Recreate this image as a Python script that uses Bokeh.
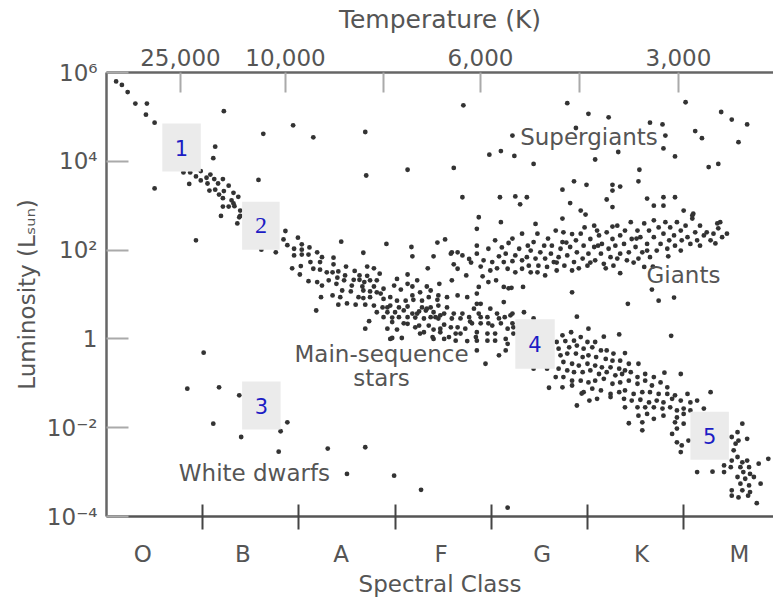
from bokeh.plotting import figure
from bokeh.models import Range1d, LinearAxis, FixedTicker, Label, ColumnDataSource
from bokeh.core.properties import value
from bokeh.embed import file_html
from bokeh.resources import INLINE

# ---------------- data (spectral position: O0=0 ... M9=69, log10 L/Lsun) ----------------
upper_ms = [
    (1.0, 5.80), (1.6, 5.72), (2.2, 5.56), (3.0, 5.30), (4.2, 5.30), (4.1, 5.05), (5.0, 4.87),
    (8.0, 3.75), (8.7, 3.75), (9.3, 3.66), (9.8, 3.78), (9.8, 3.57), (10.4, 3.63), (10.8, 3.70),
    (11.2, 3.60), (10.5, 3.50), (11.6, 3.50), (12.1, 3.60), (10.7, 3.34), (11.3, 3.36), (11.7, 3.25),
    (12.2, 3.33), (12.7, 3.45), (13.2, 3.29), (12.1, 3.17), (13.0, 3.12), (13.7, 3.20), (12.1, 2.98),
    (12.7, 2.98), (13.3, 2.99), (11.9, 2.77), (13.9, 2.77), (13.6, 2.60), (13.8, 2.74), (13.9, 2.89),
    (13.2, 3.05),
]
mid_ms = [
    (18.6, 2.43), (18.4, 2.24), (18.8, 2.11), (19.9, 2.28), (20.3, 2.13), (19.5, 2.03), (20.3, 2.01),
    (21.1, 2.06), (17.6, 1.95), (16.1, 2.01), (21.9, 1.95), (19.5, 1.88), (20.3, 1.90), (21.0, 1.90),
    (22.4, 1.84), (23.6, 1.83), (21.2, 1.73), (22.2, 1.73), (23.6, 1.68), (19.3, 1.59), (20.2, 1.64),
    (21.5, 1.58), (22.2, 1.56), (24.9, 1.63), (25.8, 1.53), (27.1, 1.63), (27.8, 1.59), (22.9, 1.50),
    (23.5, 1.50), (24.1, 1.52), (20.1, 1.45), (24.0, 1.38), (24.8, 1.43), (26.3, 1.43), (27.1, 1.42),
    (28.4, 1.47), (21.0, 1.30), (21.9, 1.28), (23.1, 1.32), (24.7, 1.32), (25.7, 1.33), (26.3, 1.33),
    (26.8, 1.28), (27.4, 1.32), (28.1, 1.32), (30.2, 1.35), (31.3, 1.45), (32.3, 1.32), (22.4, 1.20),
    (23.9, 1.24), (25.5, 1.20), (26.6, 1.18), (27.8, 1.18), (28.8, 1.13), (29.9, 1.20), (31.3, 1.24),
    (31.8, 1.18), (33.3, 1.18), (34.6, 1.24), (24.5, 1.09), (25.4, 1.07), (26.7, 1.09), (27.4, 1.07),
    (28.1, 1.05), (30.6, 1.11), (32.6, 1.05), (22.3, 0.94), (23.5, 0.98), (24.3, 0.94), (26.2, 0.94),
    (26.7, 0.92), (27.4, 0.94), (28.8, 0.90), (30.2, 0.86), (31.1, 0.86), (31.9, 0.88), (33.5, 0.94),
    (34.4, 0.88), (35.4, 0.94), (24.1, 0.77), (25.0, 0.80), (25.9, 0.77), (26.9, 0.77), (27.8, 0.75),
    (28.7, 0.71), (29.5, 0.75), (30.4, 0.71), (31.3, 0.73), (32.8, 0.71), (33.7, 0.71), (34.5, 0.75),
    (35.4, 0.71), (21.8, 0.64), (28.1, 0.60), (29.2, 0.60), (30.0, 0.60), (30.9, 0.64), (31.8, 0.57),
    (32.5, 0.62), (33.2, 0.64), (34.0, 0.60), (35.1, 0.57), (28.8, 0.49), (29.7, 0.48), (30.4, 0.49),
    (31.3, 0.49), (32.1, 0.48), (33.0, 0.46), (33.7, 0.49), (34.5, 0.46), (27.3, 0.40), (31.3, 0.34),
    (32.5, 0.30), (35.1, 0.32), (26.9, 0.23), (29.2, 0.23), (30.2, 0.21), (33.0, 0.15), (34.0, 0.21),
    (34.7, 0.15), (29.7, 0.02), (30.7, 0.02), (33.9, 0.04), (35.6, 0.04),
    (28.5, 1.02), (29.5, 0.94), (31.8, 0.98), (32.8, 0.86), (33.7, 1.09), (34.5, 0.98), (36.5, 0.98),
    (37.5, 0.94), (38.5, 0.79), (39.9, 0.68), (41.3, 0.83), (29.2, 0.71), (32.3, 0.57), (33.3, 0.68),
    (34.2, 0.49), (35.9, 0.46), (37.0, 0.57), (37.8, 0.39), (38.9, 0.49), (39.7, 0.35), (40.8, 0.46),
    (42.0, 0.53), (29.7, 0.38), (30.9, 0.35), (32.1, 0.26), (33.5, 0.30), (34.7, 0.23), (35.8, 0.26),
    (36.8, 0.12), (38.4, 0.04), (39.6, -0.04), (40.4, 0.12), (41.5, 0.00), (38.5, -0.26), (39.4, -0.56),
    (40.8, -0.37), (43.4, 0.60), (44.4, 0.46), (43.3, 1.17), (42.1, 1.15), (39.7, 1.28), (42.2, 0.57),
    (41.4, 0.49), (40.6, 0.57), (38.9, 0.79), (38.2, 0.68), (38.7, 0.57), (39.6, 0.49), (37.7, 0.49),
    (36.8, 0.46), (38.0, 0.35), (38.9, 0.35), (40.1, 0.30), (41.0, 0.35), (41.7, 0.23), (42.2, 0.35),
    (37.3, 0.23), (38.5, 0.15), (39.6, 0.12), (42.3, 0.12), (36.5, 0.26), (36.3, 0.12), (38.5, -0.04),
    (40.4, -0.04), (41.7, -0.11), (37.5, -0.05), (41.5, -0.26), (36.1, 0.57), (34.7, 0.53), (29.5, 0.00),
    (32.6, 0.12), (34.0, 0.00), (35.1, 0.00), (36.3, -0.04), (38.5, 1.02), (38.7, 1.17), (42.3, 0.26),
]
lower_ms = [
    (44.4, -0.67), (45.8, -0.67), (46.7, -0.86), (46.0, -1.10), (47.4, -1.09),
    (47.4, 0.08), (48.3, 0.15), (46.8, -0.07), (47.7, -0.05), (48.6, -0.04), (49.3, 0.04), (50.0, -0.07),
    (50.8, -0.07), (51.7, 0.05), (47.0, -0.22), (48.1, -0.19), (48.9, -0.15), (49.6, -0.22), (50.5, -0.19),
    (51.4, -0.26), (52.0, -0.26), (52.7, -0.33), (53.9, -0.32), (47.2, -0.37), (47.9, -0.33), (48.8, -0.33),
    (49.5, -0.41), (50.1, -0.37), (50.9, -0.41), (51.9, -0.45), (52.6, -0.49), (53.4, -0.49), (54.3, -0.56),
    (47.5, -0.52), (48.4, -0.56), (49.1, -0.60), (50.0, -0.56), (50.8, -0.60), (51.5, -0.64), (52.4, -0.64),
    (53.3, -0.67), (53.9, -0.71), (55.3, -0.56), (47.0, -0.67), (47.9, -0.71), (48.6, -0.75), (49.5, -0.75),
    (50.3, -0.71), (51.2, -0.79), (52.0, -0.75), (52.9, -0.82), (53.6, -0.79), (54.5, -0.75), (55.2, -0.86),
    (56.0, -0.79), (56.9, -0.86), (58.0, -0.76), (59.7, -0.79), (47.5, -0.86), (48.4, -0.94), (49.3, -0.94),
    (50.1, -0.98), (50.8, -0.94), (51.7, -0.90), (52.6, -1.01), (53.4, -0.98), (54.3, -0.94), (55.2, -1.01),
    (56.0, -0.94), (56.7, -1.05), (57.6, -0.98), (58.3, -1.09), (48.4, -1.05), (49.6, -1.20), (50.5, -1.12),
    (51.4, -1.16), (52.4, -1.24), (53.3, -1.20), (53.9, -1.16), (54.8, -1.24), (55.7, -1.20), (56.5, -1.20),
    (57.4, -1.24), (58.3, -1.24), (59.1, -1.27), (60.4, -1.24), (62.8, -1.20), (50.2, -1.39), (51.0, -1.35),
    (52.4, -1.31), (53.8, -1.35), (54.6, -1.39), (55.5, -1.37), (56.4, -1.43), (57.2, -1.39), (57.9, -1.43),
    (58.8, -1.35), (59.7, -1.39), (60.7, -1.43), (61.4, -1.39), (62.1, -1.57), (48.9, -1.50), (53.9, -1.54),
    (55.2, -1.54), (56.0, -1.54), (56.9, -1.54), (57.8, -1.57), (58.6, -1.54), (59.3, -1.61), (60.0, -1.57),
    (60.7, -1.61), (54.3, -1.90), (55.3, -1.73), (56.2, -1.69), (56.9, -1.80), (57.9, -1.73), (59.3, -1.77),
    (60.0, -1.69), (55.7, -1.88), (55.7, -2.06), (59.1, -1.88), (60.0, -1.91), (59.3, -2.02), (58.8, -2.14),
    (59.3, -2.33), (59.8, -2.40), (59.7, -2.55), (60.5, -2.29), (49.4, -1.23),
    (61.4, -3.00), (63.0, -2.99), (64.2, -2.85), (64.2, -3.00), (64.9, -2.89), (65.0, -2.74), (65.2, -2.51),
    (65.4, -2.36), (65.0, -2.21), (65.6, -2.10), (66.1, -1.91), (66.6, -2.25), (65.7, -2.29), (65.6, -2.66),
    (66.1, -2.78), (66.6, -2.74), (65.9, -2.89), (66.8, -2.89), (67.8, -2.81), (68.8, -2.70), (66.2, -3.00),
    (66.9, -3.04), (65.6, -3.11), (66.4, -3.15), (67.3, -3.11), (68.0, -3.26), (65.9, -3.26), (66.8, -3.30),
    (65.0, -3.41), (66.1, -3.41), (66.9, -3.45), (65.0, -3.53), (65.7, -3.57), (66.7, -3.53), (67.6, -3.70),
]
giants = [
    (35.9, 1.95), (36.1, 1.68), (39.2, 1.77), (39.7, 2.03), (40.1, 1.73), (39.9, 1.54), (40.8, 1.86),
    (41.1, 2.06), (41.5, 1.92), (41.8, 2.16), (41.3, 1.73), (41.7, 1.58), (42.2, 1.75), (42.5, 1.88),
    (42.9, 2.03), (43.2, 1.77), (43.2, 1.58), (43.7, 1.84), (43.9, 1.65), (44.1, 1.99), (44.4, 2.18),
    (44.8, 2.37), (44.6, 1.81), (44.8, 1.50), (44.9, 1.65), (45.1, 1.95), (45.5, 2.10), (45.6, 1.81),
    (45.8, 1.62), (46.2, 1.92), (46.3, 2.10), (46.5, 1.73), (46.8, 1.54), (47.0, 1.84), (47.2, 2.03),
    (47.4, 2.18), (47.5, 2.40), (47.6, 1.65), (47.9, 1.88), (48.2, 2.07), (48.4, 1.54), (48.6, 1.73),
    (48.8, 2.22), (48.9, 1.95), (49.3, 2.37), (49.5, 1.81), (49.6, 2.10), (50.0, 1.65), (50.1, 1.92),
    (50.3, 2.25), (50.7, 2.55), (50.7, 2.07), (50.8, 1.77), (51.2, 2.33), (51.4, 1.92), (51.5, 2.14),
    (51.7, 1.69), (52.0, 2.40), (52.2, 2.03), (52.4, 1.84), (52.6, 2.25), (52.7, 1.65), (52.9, 2.10),
    (53.1, 2.55), (53.4, 2.33), (53.4, 1.92), (53.4, 1.48), (53.8, 2.14), (53.9, 2.44), (54.1, 1.77),
    (54.3, 1.95), (54.5, 2.63), (54.6, 2.25), (55.0, 2.07), (55.2, 2.44), (55.3, 1.81), (55.5, 2.29),
    (55.7, 1.95), (55.9, 2.60), (55.9, 1.62), (56.2, 2.14), (56.4, 2.44), (56.5, 1.84), (56.9, 2.67),
    (56.9, 2.29), (57.2, 1.99), (57.4, 2.51), (57.6, 2.14), (57.9, 2.37), (58.1, 2.63), (58.3, 2.03),
    (58.5, 2.22), (58.6, 2.51), (59.0, 2.33), (59.1, 2.10), (59.3, 2.63), (59.7, 2.44), (59.8, 2.22),
    (60.2, 2.55), (60.4, 2.29), (60.7, 2.14), (60.9, 2.71), (61.2, 2.40), (61.4, 2.22), (61.7, 2.55),
    (62.1, 2.33), (62.4, 2.40), (62.8, 2.22), (63.1, 2.37), (63.5, 2.60), (63.6, 2.49), (63.8, 2.63),
    (64.5, 2.37), (61.0, 2.82), (57.9, 3.00), (41.8, 1.14),
    (40.4, 2.22), (42.2, 2.26), (43.8, 2.10), (45.9, 2.26), (46.8, 1.72), (47.8, 2.17), (49.1, 1.59),
    (50.3, 1.72), (51.1, 2.10), (51.9, 1.59), (53.1, 1.81), (54.8, 1.72), (56.2, 1.99), (56.8, 1.63),
    (58.4, 1.86), (59.7, 1.99), (61.7, 2.10), (63.3, 2.15), (64.0, 2.29), (55.1, 2.26), (52.6, 2.53),
    (51.0, 2.44), (49.7, 2.51), (48.4, 2.36), (45.6, 1.43), (44.1, 1.50), (42.5, 1.50), (40.6, 1.59),
    (37.9, 1.72), (37.0, 1.88), (37.4, 1.43), (40.5, 1.32),
    (35.8, 1.92), (36.5, 1.95), (36.5, 1.58), (37.7, 1.80), (38.5, 2.10), (38.5, 1.92), (39.1, 1.41),
    (38.9, 1.63), (35.9, 1.32), (41.3, 1.17), (48.4, 1.05), (54.2, 0.79), (56.7, 1.11), (57.4, 0.86),
    (59.0, 0.93), (58.7, 0.07), (48.9, 0.50), (50.1, 0.23), (53.3, 0.10),
    (43.0, 3.03), (48.2, 3.06), (49.3, 2.89), (49.8, 2.80), (52.6, 2.97), (56.9, 3.00), (60.0, 2.89),
    (60.9, 2.78), (38.7, 2.74), (38.5, 2.48), (41.0, 2.63), (44.6, 2.59), (47.4, 2.71), (46.7, 2.44),
    (43.2, 2.37),
]
supergiants = [
    (37.1, 5.26), (47.9, 5.31), (50.1, 5.07), (52.2, 4.99), (56.5, 4.87), (57.8, 4.83), (60.2, 5.33),
    (63.9, 5.11), (65.0, 4.94), (66.6, 4.83), (42.2, 4.58), (48.8, 4.75), (58.1, 4.58), (61.2, 4.68),
    (61.9, 4.52), (65.7, 4.43), (39.8, 4.15), (41.0, 4.23), (42.4, 4.12), (44.4, 3.94), (50.8, 4.04),
    (53.2, 4.21), (57.9, 4.29), (59.1, 4.11), (36.1, 3.85), (55.4, 3.81), (62.6, 3.87), (63.6, 3.94),
    (47.4, 3.36), (48.6, 3.55), (49.9, 3.47), (52.6, 3.47), (52.6, 3.34), (53.4, 3.43), (55.3, 3.55),
    (31.3, 3.81), (37.0, 3.19), (40.9, 3.19), (42.5, 3.21), (43.7, 3.19), (52.0, 3.14), (56.2, 3.16),
    (57.9, 3.19), (59.1, 3.19),
]
scattered = [
    (12.2, 5.13), (16.3, 4.62), (19.4, 4.81), (21.5, 4.54), (26.9, 4.66), (27.0, 3.68), (11.3, 4.33),
    (11.1, 4.07), (5.0, 3.39), (8.6, 3.49), (15.8, 3.58), (9.3, 2.22), (24.4, 2.19), (26.7, 1.94),
    (29.1, 2.14), (31.7, 2.07), (31.8, 1.86), (34.0, 1.86), (34.4, 2.17), (35.2, 2.24), (33.4, 1.59),
]
white_dwarfs = [
    (10.1, -0.31), (8.4, -1.12), (11.7, -1.09), (13.8, -1.27), (11.1, -1.91), (14.0, -2.21), (18.1, -2.08),
    (18.8, -1.88), (17.9, -2.54), (23.0, -2.47), (26.9, -2.44), (25.0, -3.04), (29.9, -3.08), (32.7, -3.40),
    (41.7, -3.80),
]

# axis ticks / labels
lum_ticks = [-4, -2, 0, 2, 4, 6]
lum_labels = ["10\u207b\u2074", "10\u207b\u00b2", "1", "10\u00b2", "10\u2074", "10\u2076"]
class_names = ["O", "B", "A", "F", "G", "K", "M"]
class_label_pos = [3.77, 14.17, 24.40, 34.79, 45.28, 55.61, 65.80]
class_bounds = [10, 20, 30, 40, 50, 60]
temp_labels = ["25,000", "10,000", "6,000", "3,000"]
temp_label_pos = [7.69, 18.61, 38.88, 59.46]
temp_extra_ticks = [28.79, 49.17]

# numbered markers: (label, left, right, bottom, top) in data units
markers = [
    ("1", 5.8, 9.8, 3.77, 4.85),
    ("2", 14.1, 18.0, 2.01, 3.09),
    ("3", 14.1, 18.1, -2.04, -0.96),
    ("4", 42.5, 46.6, -0.67, 0.44),
    ("5", 60.7, 64.7, -2.72, -1.64),
]
# region annotations: (text, x, y)
regions = [
    ("Supergiants", 50.16, 4.54),
    ("Giants", 59.98, 1.43),
    ("Main-sequence", 28.59, -0.34),
    ("stars", 28.59, -0.89),
    ("White dwarfs", 15.38, -3.01),
]

FONT = "DejaVu Sans"
GREY = "#555555"

p = figure(width=773, height=602, output_backend="svg", toolbar_location=None,
           x_range=Range1d(0, 69.34), y_range=Range1d(-4, 6),
           x_axis_type=None, y_axis_type=None,
           min_border_left=106, min_border_right=0, min_border_top=72, min_border_bottom=86)
p.outline_line_color = None
p.background_fill_color = "white"
p.border_fill_color = "white"

# left axis
yax = LinearAxis(ticker=FixedTicker(ticks=lum_ticks, minor_ticks=[]),
                 major_label_overrides={t: l for t, l in zip(lum_ticks, lum_labels)},
                 axis_label="Luminosity (L\u209b\u1d64\u2099)")
yax.axis_line_color = "#666666"
yax.axis_line_width = 2.5
yax.major_tick_in = 22
yax.major_tick_out = 0
yax.major_tick_line_color = "#aaaaaa"
yax.major_tick_line_width = 2
yax.major_label_standoff = 9
yax.major_label_text_font = FONT
yax.major_label_text_font_size = "23px"
yax.major_label_text_color = GREY
yax.axis_label_text_font = FONT
yax.axis_label_text_font_size = "23px"
yax.axis_label_text_font_style = "normal"
yax.axis_label_text_color = GREY
yax.axis_label_standoff = 4
p.add_layout(yax, "left")

# bottom axis
xax = LinearAxis(ticker=FixedTicker(ticks=class_label_pos, minor_ticks=class_bounds),
                 major_label_overrides={t: l for t, l in zip(class_label_pos, class_names)},
                 axis_label="Spectral Class")
xax.axis_line_color = "#555555"
xax.axis_line_width = 2.5
xax.major_tick_line_color = None
xax.major_tick_in = 0
xax.major_tick_out = 0
xax.minor_tick_line_color = "#444444"
xax.minor_tick_line_width = 2
xax.minor_tick_in = 12
xax.minor_tick_out = 13
xax.major_label_standoff = 11
xax.major_label_text_font = FONT
xax.major_label_text_font_size = "23px"
xax.major_label_text_color = GREY
xax.axis_label_text_font = FONT
xax.axis_label_text_font_size = "23px"
xax.axis_label_text_font_style = "normal"
xax.axis_label_text_color = GREY
xax.axis_label_standoff = 1
p.add_layout(xax, "below")

# top axis (temperature)
tax = LinearAxis(ticker=FixedTicker(ticks=temp_label_pos, minor_ticks=temp_extra_ticks),
                 major_label_overrides={t: l for t, l in zip(temp_label_pos, temp_labels)},
                 axis_label="Temperature (K)")
tax.axis_line_color = "#666666"
tax.axis_line_width = 2.5
tax.major_tick_line_color = "#aaaaaa"
tax.major_tick_line_width = 2
tax.major_tick_in = 20
tax.major_tick_out = 0
tax.minor_tick_line_color = "#aaaaaa"
tax.minor_tick_line_width = 2
tax.minor_tick_in = 20
tax.minor_tick_out = 0
tax.major_label_standoff = 7
tax.major_label_text_font = FONT
tax.major_label_text_font_size = "23px"
tax.major_label_text_color = GREY
tax.axis_label_text_font = FONT
tax.axis_label_text_font_size = "25px"
tax.axis_label_text_font_style = "normal"
tax.axis_label_text_color = GREY
tax.axis_label_standoff = 12
p.add_layout(tax, "above")

# stars
groups = [upper_ms, mid_ms, lower_ms, giants, supergiants, scattered, white_dwarfs]
xs, ys = [], []
for g in groups:
    for sx, sy in g:
        xs.append(sx)
        ys.append(sy)
p.scatter(xs, ys, size=4.8, fill_color="#333333", line_color=None)

# numbered boxes
msrc = ColumnDataSource(dict(
    text=[m[0] for m in markers],
    left=[m[1] for m in markers], right=[m[2] for m in markers],
    bottom=[m[3] for m in markers], top=[m[4] for m in markers],
    cx=[(m[1] + m[2]) / 2 for m in markers], cy=[(m[3] + m[4]) / 2 for m in markers],
    font=["DejaVu Sans", "Liberation Serif", "DejaVu Sans", "DejaVu Sans", "DejaVu Sans"],
    size=["21px", "24px", "21px", "21px", "21px"],
))
p.quad(left="left", right="right", bottom="bottom", top="top", source=msrc,
       fill_color="#ebebeb", line_color=None)
p.text(x="cx", y="cy", text="text", source=msrc, text_font="font",
       text_font_size="size", text_color="#1c1cc4", text_align="center", text_baseline="middle")

# region annotations
for t, x, y in regions:
    p.add_layout(Label(x=x, y=y, text=t, text_font=FONT, text_font_size="23px",
                       text_color=GREY, text_align="center", text_baseline="middle"))

open("out.html", "w").write(file_html(p, INLINE))
